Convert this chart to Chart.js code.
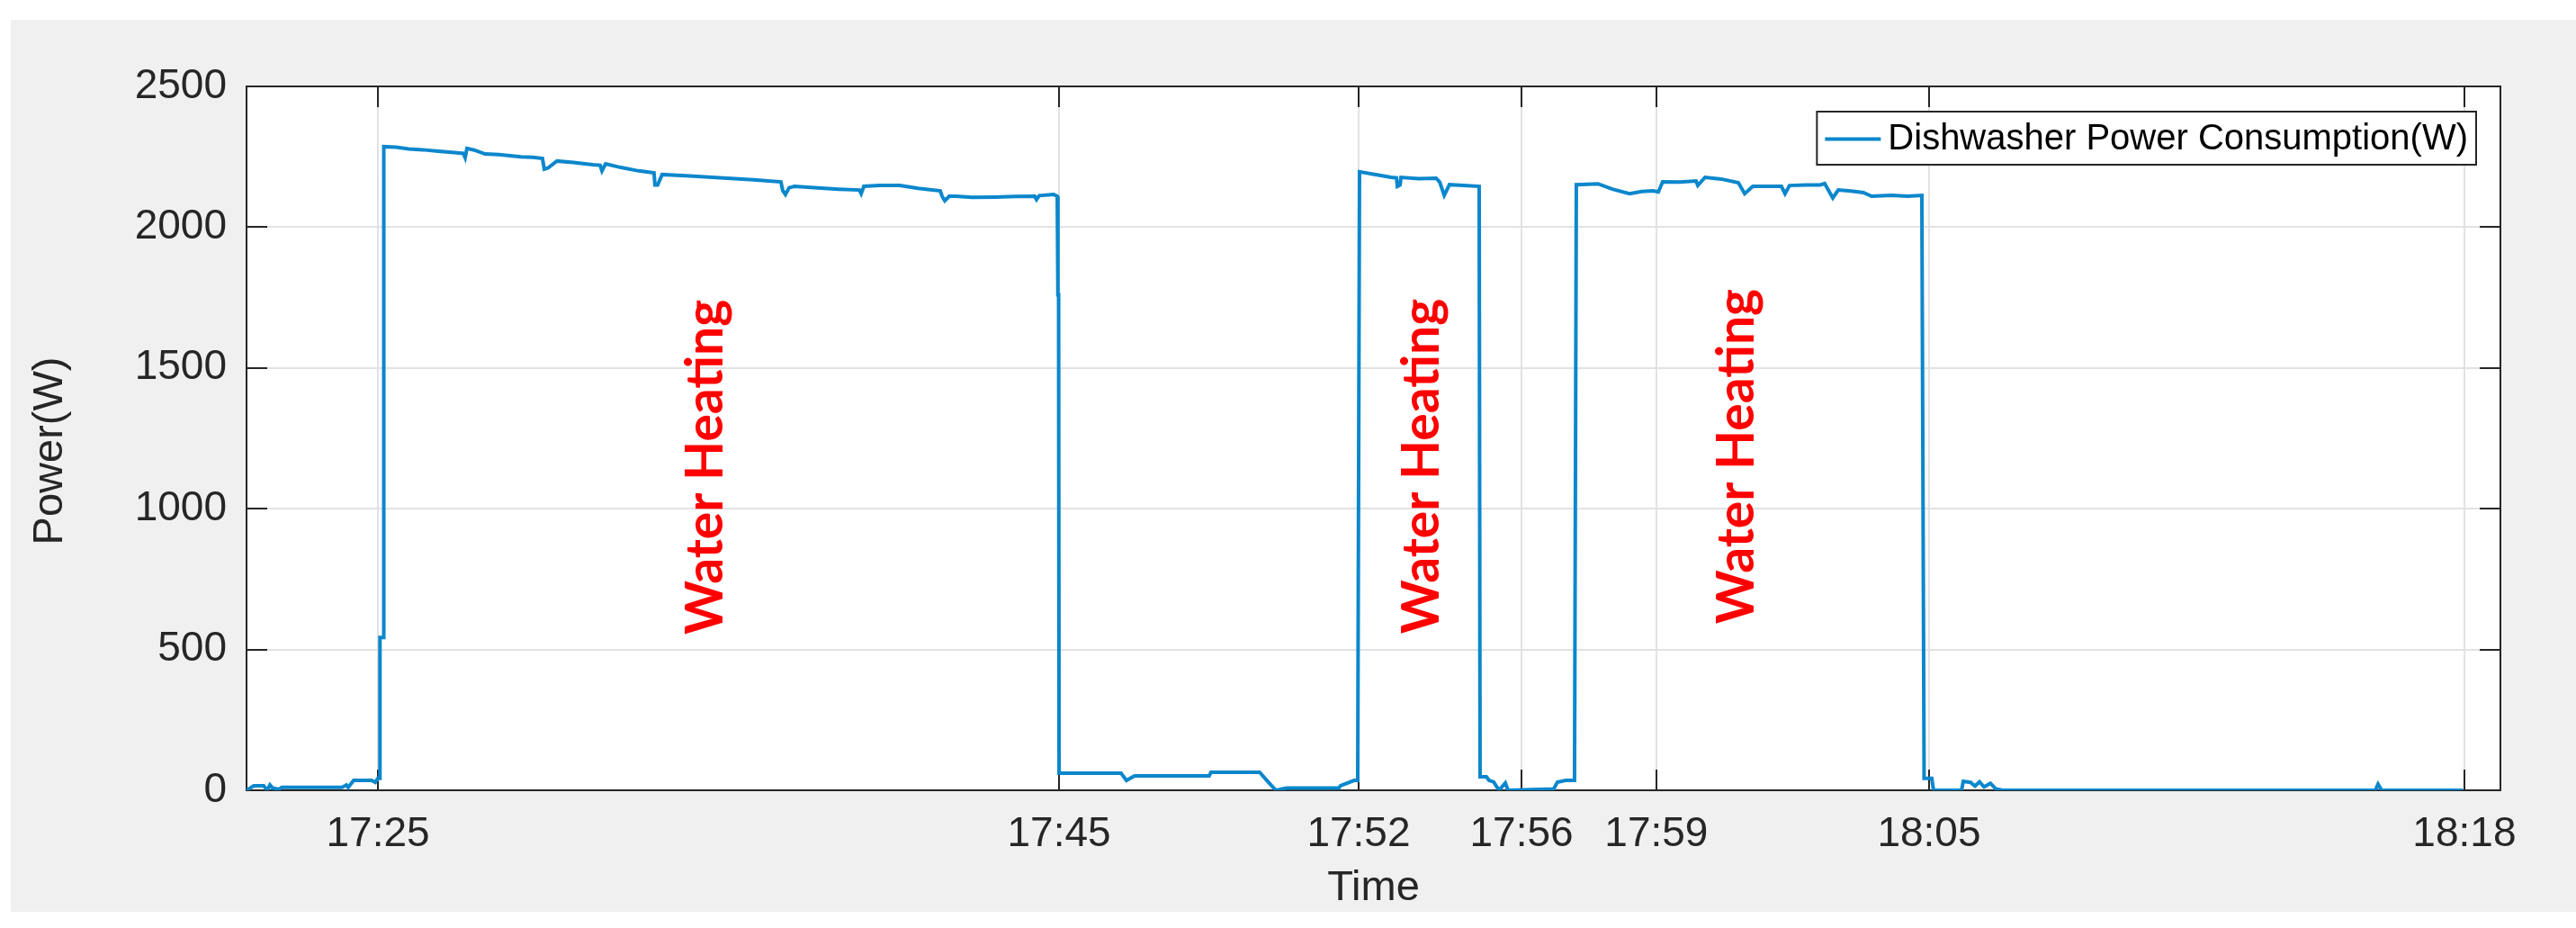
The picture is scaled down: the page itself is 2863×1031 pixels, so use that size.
<!DOCTYPE html>
<html>
<head>
<meta charset="utf-8">
<script src="https://cdn.jsdelivr.net/npm/chart.js@4.4.1/dist/chart.umd.min.js"></script>
<style>
  html, body { margin: 0; padding: 0; background: #ffffff; width: 2863px; height: 1031px; overflow: hidden; }
  #wrap { position: absolute; left: 12px; top: 22px; width: 2851px; height: 991px; background: #f0f0f0; }
  #c { display: block; }
</style>
</head>
<body>
<div id="wrap"><canvas id="c" width="2851" height="991"></canvas></div>
<script>
// ---- data (x = sample index along the recording, y = power in W) ----
const sampleIdx = [
  0, 3.2, 7.6, 9.2, 10.4, 11.6, 14.4, 15.6, 42.3, 44.3, 45.1, 47.5, 55.5, 57.1, 58.3, 59.1, 59.2, 60.7, 60.9,
  66.3, 72, 78.2, 85, 92.2, 96.2, 97.0, 97.8, 101, 105.8, 112, 121.8, 127, 131.3, 132.1, 133.7, 137.7, 145,
  153.7, 156.9, 157.7, 159.3, 166.1, 174, 180.8, 181.2, 182.4, 184.4, 195, 205, 213.2, 225, 237.1, 237.9,
  239.1, 240.7, 243.1, 252, 262.7, 271.9, 272.7, 273.9, 281, 289.8, 298, 307.8, 308.6, 309.8, 311.8, 314.6,
  322, 332.1, 341, 349.7, 350.5, 351.7, 358.1, 359.7, 360.0, 360.3, 360.5,
  388.0, 390.4, 394.0, 427.1, 427.9, 449.5, 452.7, 456.7, 461.5, 484.6, 485.4, 491.4, 493.0, 493.8,
  501.0, 507.8, 510.2, 510.6, 511.8, 512.2, 520, 527.8, 529.4, 531.4, 533.7, 540, 546.9, 547.3,
  550.1, 551.3, 553.3, 555.7, 558.5, 559.7, 580.0, 581.6, 585.2, 589.2, 590.0,
  599.6, 606, 613.6, 619, 624.0, 626.4, 628.3, 636, 643.1, 643.9, 647.1, 654.3, 661.9, 664.7, 668.3, 675,
  681.0, 682.6, 684.6, 692, 698.2, 700.2, 703.8, 706.2, 712, 717.4, 721.0, 730, 737, 743.3, 744.3,
  747.7, 748.5, 760.9, 761.7, 764.9, 766.9, 768.9, 770.9, 773.7, 776.1, 779.2, 944.5, 945.7, 947.3, 983.2
];
const powerW = [
  0, 16, 16, 0, 19, 8, 3, 10, 10, 19, 10, 35, 35, 28, 42, 42, 543, 543, 2286,
  2284, 2278, 2275, 2270, 2265, 2262, 2247, 2280, 2274, 2260, 2258, 2250, 2248, 2244, 2206, 2210, 2235, 2230,
  2222, 2220, 2200, 2225, 2212, 2200, 2193, 2150, 2150, 2187, 2183, 2178, 2174, 2168, 2161, 2130,
  2116, 2140, 2145, 2140, 2135, 2132, 2119, 2145, 2148, 2148, 2138, 2129, 2110, 2094, 2110, 2110,
  2106, 2107, 2109, 2110, 2098, 2112, 2116, 2110, 1760, 1760, 61,
  61, 35, 51, 51, 64, 64, 35, 0, 8, 8, 16, 35, 35, 2197,
  2187, 2177, 2175, 2145, 2150, 2177, 2172, 2174, 2160, 2113, 2151, 2148, 2145, 48,
  48, 35, 30, 0, 26, 0, 5, 29, 35, 35, 2151,
  2154, 2135, 2119, 2127, 2129, 2125, 2161, 2160, 2164, 2148, 2177, 2171, 2158, 2119, 2145, 2145,
  2145, 2119, 2148, 2150, 2150, 2155, 2104, 2132, 2128, 2123, 2110, 2113, 2110, 2113, 42,
  42, 0, 0, 32, 28, 15, 30, 12, 25, 5, 0, 0, 22, 0, 0
];
const seriesLabel = 'Dishwasher Power Consumption(W)';
const tickIdx = [58.3, 360.5, 493.4, 565.7, 625.5, 746.5, 984.0];
const tickLabels = ['17:25', '17:45', '17:52', '17:56', '17:59', '18:05', '18:18'];
const yTickValues = [0, 500, 1000, 1500, 2000, 2500];
const xTitle = 'Time';
const yTitle = 'Power(W)';
const noteText = 'Water Heating';
const noteX = [204.0, 521.8, 661.5];
const noteY = [1148, 1151, 1186];

const FONT = '"Liberation Sans", Arial, Helvetica, sans-serif';
const AXIS_COLOR = '#262626';
const LINE_COLOR = '#0b87cc';

const points = sampleIdx.map((x, i) => ({ x: x, y: powerW[i] }));

const plotBg = {
  id: 'plotBg',
  beforeDraw(chart) {
    const { ctx, chartArea: a } = chart;
    ctx.save();
    ctx.fillStyle = '#ffffff';
    ctx.fillRect(a.left, a.top, a.right - a.left, a.bottom - a.top);
    ctx.restore();
  }
};

const axesBox = {
  id: 'axesBox',
  beforeDatasetsDraw(chart) {
    const { ctx, chartArea: a, scales: { x, y } } = chart;
    ctx.save();
    ctx.strokeStyle = AXIS_COLOR;
    ctx.lineWidth = 2;
    ctx.strokeRect(a.left, a.top, a.right - a.left, a.bottom - a.top);
    const L = 23;
    ctx.beginPath();
    x.ticks.forEach(t => {
      const px = Math.round(x.getPixelForValue(t.value));
      ctx.moveTo(px, a.bottom); ctx.lineTo(px, a.bottom - L);
      ctx.moveTo(px, a.top); ctx.lineTo(px, a.top + L);
    });
    y.ticks.forEach(t => {
      const py = Math.round(y.getPixelForValue(t.value));
      ctx.moveTo(a.left, py); ctx.lineTo(a.left + L, py);
      ctx.moveTo(a.right, py); ctx.lineTo(a.right - L, py);
    });
    ctx.stroke();
    // y-axis title
    ctx.fillStyle = AXIS_COLOR;
    ctx.font = '47px ' + FONT;
    ctx.textAlign = 'center';
    ctx.textBaseline = 'middle';
    ctx.translate(44, (a.top + a.bottom) / 2 + 14);
    ctx.rotate(-Math.PI / 2);
    ctx.fillText(yTitle, 0, 0);
    ctx.restore();
  }
};

const notes = {
  id: 'notes',
  afterDatasetsDraw(chart) {
    const { ctx, scales: { x, y } } = chart;
    ctx.save();
    ctx.fillStyle = '#ff0000';
    ctx.font = 'bold 57px Lato, "Open Sans", sans-serif';
    ctx.textAlign = 'center';
    ctx.textBaseline = 'middle';
    noteX.forEach((v, i) => {
      ctx.save();
      ctx.translate(x.getPixelForValue(v), y.getPixelForValue(noteY[i]));
      ctx.rotate(-Math.PI / 2);
      ctx.fillText(noteText, 0, 0);
      ctx.restore();
    });
    ctx.restore();
  }
};

const boxLegend = {
  id: 'boxLegend',
  afterDraw(chart) {
    const { ctx, chartArea: a } = chart;
    const ds = chart.data.datasets[0];
    ctx.save();
    ctx.font = '40px ' + FONT;
    const tw = ctx.measureText(ds.label).width;
    const padL = 9, sampleW = 62, gap = 8, padR = 9, h = 59;
    const w = padL + sampleW + gap + tw + padR;
    const right = a.right - 27, top = a.top + 28, left = right - w;
    ctx.fillStyle = '#ffffff';
    ctx.fillRect(left, top, w, h);
    ctx.strokeStyle = AXIS_COLOR;
    ctx.lineWidth = 2;
    ctx.strokeRect(left, top, w, h);
    const cy = top + h / 2 + 1;
    ctx.strokeStyle = ds.borderColor;
    ctx.lineWidth = 4;
    ctx.beginPath();
    ctx.moveTo(left + padL, cy);
    ctx.lineTo(left + padL + sampleW, cy);
    ctx.stroke();
    ctx.fillStyle = '#000000';
    ctx.textAlign = 'left';
    ctx.textBaseline = 'middle';
    ctx.fillText(ds.label, left + padL + sampleW + gap, cy);
    ctx.restore();
  }
};

new Chart(document.getElementById('c'), {
  type: 'line',
  data: {
    datasets: [{
      label: seriesLabel,
      data: points,
      borderColor: LINE_COLOR,
      borderWidth: 4,
      pointRadius: 0,
      tension: 0,
      fill: false
    }]
  },
  options: {
    responsive: false,
    animation: false,
    devicePixelRatio: 1,
    layout: { padding: { left: 0, top: 74, right: 84, bottom: 0 } },
    plugins: { legend: { display: false }, tooltip: { enabled: false } },
    scales: {
      x: {
        type: 'linear',
        min: 0,
        max: 1000,
        afterBuildTicks(scale) { scale.ticks = tickIdx.map(v => ({ value: v })); },
        afterFit(scale) { scale.height = 135; },
        ticks: {
          autoSkip: false,
          maxRotation: 0,
          padding: 22,
          color: AXIS_COLOR,
          font: { family: FONT, size: 46 },
          callback(value) {
            const i = tickIdx.indexOf(value);
            return i >= 0 ? tickLabels[i] : '';
          }
        },
        grid: { color: '#e2e2e2', lineWidth: 2, drawTicks: false },
        border: { display: false },
        title: {
          display: true,
          text: xTitle,
          color: AXIS_COLOR,
          font: { family: FONT, size: 47, lineHeight: 1.1 },
          padding: { top: 0, bottom: 0 }
        }
      },
      y: {
        min: 0,
        max: 2500,
        afterBuildTicks(scale) { scale.ticks = yTickValues.map(v => ({ value: v })); },
        afterFit(scale) { scale.width = 262; },
        ticks: {
          padding: 22,
          color: AXIS_COLOR,
          font: { family: FONT, size: 46 },
          callback(value) { return String(value); }
        },
        grid: { color: '#e2e2e2', lineWidth: 2, drawTicks: false },
        border: { display: false },
        title: { display: false }
      }
    }
  },
  plugins: [plotBg, axesBox, notes, boxLegend]
});
</script>
</body>
</html>
